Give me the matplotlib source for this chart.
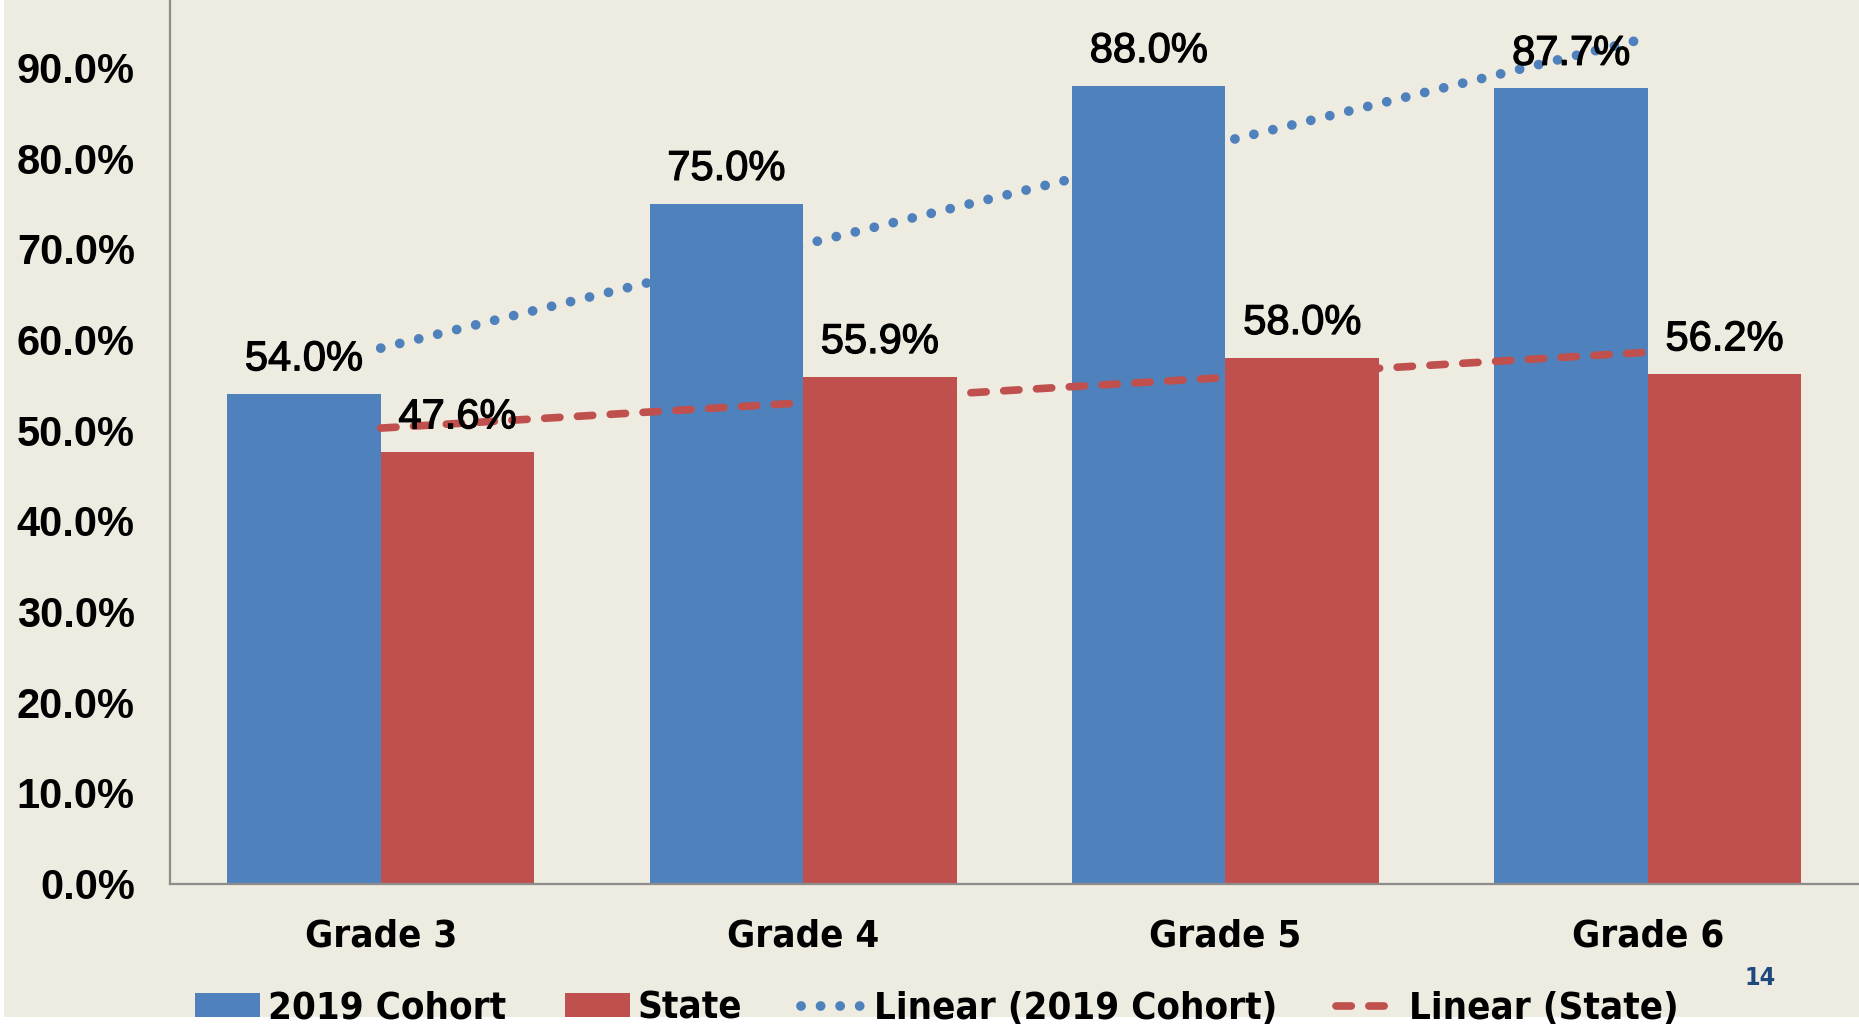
import numpy as np
import matplotlib
matplotlib.use("Agg")
import matplotlib.pyplot as plt
from matplotlib.patches import Patch, Rectangle
from matplotlib.lines import Line2D
from matplotlib.font_manager import FontProperties
import matplotlib.patheffects as pe

# values
grades = ["Grade 3", "Grade 4", "Grade 5", "Grade 6"]
cohort = [54.0, 75.0, 88.0, 87.7]
state = [47.6, 55.9, 58.0, 56.2]

blue = "#4F81BD"
red = "#C0504D"
bg = "#EEEBE0"
regular = ["Liberation Sans", "DejaVu Sans"]
narrow_bold = FontProperties(family="DejaVu Sans", stretch="condensed", weight="bold", size=27.5)

fig = plt.figure(figsize=(18.59, 10.27), dpi=100, facecolor="white")
# slide background (a thin white strip remains at the bottom)
fig.patches.append(Rectangle((0.002, 0.0097), 0.998, 0.9903, transform=fig.transFigure,
                             facecolor=bg, edgecolor="none", zorder=-10))

ax = fig.add_axes([0.0912, 0.1397, 0.9088, 0.8827])
ax.patch.set_alpha(0)

x = np.arange(1, len(grades) + 1)
w = 0.3636
b1 = ax.bar(x - w / 2, cohort, w, color=blue, zorder=2)
b2 = ax.bar(x + w / 2, state, w, color=red, zorder=2)

# linear trendlines (least squares, like Excel)
p1 = np.polyfit(x, cohort, 1)
p2 = np.polyfit(x, state, 1)
dots = (0, (0.01, 2.0))
dashes = (0, (2.0, 2.3))
ax.plot(x, np.polyval(p1, x), color=blue, lw=7, linestyle=dots,
        dash_capstyle="round", zorder=3)
ax.plot(x, np.polyval(p2, x), color=red, lw=5.5, linestyle=dashes,
        dash_capstyle="round", zorder=3)

for bars, vals in ((b1, cohort), (b2, state)):
    for r, v in zip(bars, vals):
        ax.annotate(f"{v:.1f}%", (r.get_x() + r.get_width() / 2, v),
                    xytext=(0, 25), textcoords="offset points",
                    ha="center", va="center", fontsize=30, family=regular, zorder=4,
                    path_effects=[pe.withStroke(linewidth=0.9, foreground="black")])

ax.set_xlim(0.5, 4.5)
ax.set_ylim(0, 100)
ax.set_yticks(np.arange(0, 100, 10))
ax.set_yticklabels([f"{t:.1f}%" for t in np.arange(0, 100, 10)])
ax.set_xticks(x)
ax.set_xticklabels(grades)
for lab in ax.get_yticklabels():
    lab.set_family(regular)
    lab.set_fontweight("bold")
    lab.set_fontsize(30)
for lab in ax.get_xticklabels():
    lab.set_fontproperties(narrow_bold)
ax.tick_params(axis="y", length=0, pad=25)
ax.tick_params(axis="x", length=0, pad=25)

for s in ("top", "right"):
    ax.spines[s].set_visible(False)
for s in ("left", "bottom"):
    ax.spines[s].set_color("#8C8C8C")
    ax.spines[s].set_linewidth(1.6)

handles = [
    Patch(facecolor=blue, edgecolor="none"),
    Patch(facecolor=red, edgecolor="none"),
    Line2D([], [], color=blue, lw=7, linestyle=dots, dash_capstyle="round"),
    Line2D([], [], color=red, lw=5.5, linestyle=dashes, dash_capstyle="round"),
]
labels = ["2019 Cohort", "State", "Linear (2019 Cohort)", "Linear (State)"]
fig.legend(handles, labels, loc="center", bbox_to_anchor=(0.504, 0.018), ncol=4,
           frameon=False, handlelength=1.7, handleheight=0.6, handletextpad=0.2,
           columnspacing=1.55, prop=narrow_bold)

fig.text(0.947, 0.048, "14", color="#1F497D",
         fontproperties=FontProperties(family="DejaVu Sans", stretch="condensed",
                                       weight="bold", size=18),
         ha="center", va="center")

fig.savefig("out.png", dpi=100, facecolor=fig.get_facecolor())
